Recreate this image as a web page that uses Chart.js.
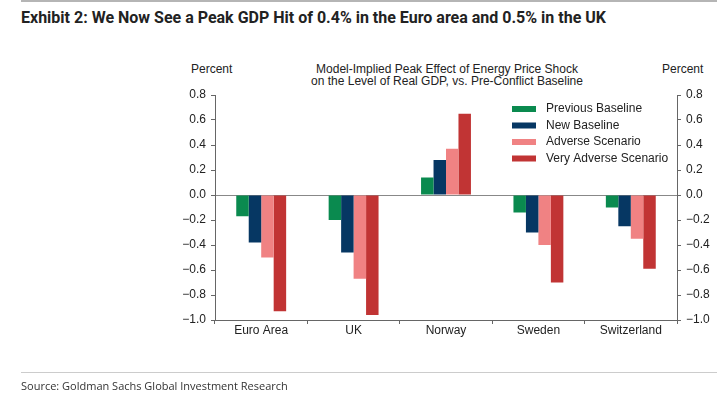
<!DOCTYPE html>
<html>
<head>
<meta charset="utf-8">
<script src="https://cdn.jsdelivr.net/npm/chart.js@4.4.1/dist/chart.umd.min.js"></script>
<style>
  body { margin: 0; background: #fff; width: 717px; height: 398px; position: relative; overflow: hidden; }
  .topline { position: absolute; left: 21px; top: 0; width: 696px; height: 2px; background: #b5b5b5; }
  .exhibit { position: absolute; left: 21px; top: 8px; font: bold 16px Roboto, sans-serif; color: #222; }
  .txt { position: absolute; font: 12px "Liberation Sans", Arial, sans-serif; color: #222; }
  .ctitle { left: 247px; width: 400px; top: 63px; text-align: center; line-height: 12px; }
  .srcline { position: absolute; left: 21px; top: 372px; width: 696px; height: 1px; background: #ccc; }
  .source { position: absolute; left: 21px; top: 378px; font: 11px "Open Sans", sans-serif; color: #333; }
  canvas { position: absolute; left: 0; top: 0; }
</style>
</head>
<body>
<div class="topline"></div>
<div class="exhibit">Exhibit 2: We Now See a Peak GDP Hit of 0.4% in the Euro area and 0.5% in the UK</div>
<div class="txt" style="left:191px;top:62px;">Percent</div>
<div class="txt" style="left:662px;top:62px;">Percent</div>
<div class="txt ctitle">Model-Implied Peak Effect of Energy Price Shock<br>on the Level of Real GDP, vs. Pre-Conflict Baseline</div>
<canvas id="chart" width="717" height="398"></canvas>
<div class="srcline"></div>
<div class="source">Source: Goldman Sachs Global Investment Research</div>
<script>
const categories = ['Euro Area', 'UK', 'Norway', 'Sweden', 'Switzerland'];
const seriesNames = ['Previous Baseline', 'New Baseline', 'Adverse Scenario', 'Very Adverse Scenario'];
const previousBaseline = [-0.17, -0.20, 0.14, -0.14, -0.10];
const newBaseline = [-0.38, -0.46, 0.28, -0.30, -0.25];
const adverseScenario = [-0.50, -0.67, 0.37, -0.40, -0.35];
const veryAdverseScenario = [-0.93, -0.96, 0.65, -0.70, -0.59];
const seriesColors = ['#0a8a4f', '#063763', '#f08283', '#c13434'];

const fmt = v => v.toFixed(1).replace('-', '\u2212');
const tickFont = { family: '"Liberation Sans", Arial, sans-serif', size: 12 };

// legend drawn inside the plot, top right
const insideLegend = {
    id: 'insideLegend',
    afterDraw(chart) {
        const ctx = chart.ctx;
        ctx.save();
        ctx.font = '12px "Liberation Sans", Arial, sans-serif';
        ctx.textBaseline = 'middle';
        chart.data.datasets.forEach((ds, i) => {
            const y = 109 + i * 16.5;
            ctx.fillStyle = ds.backgroundColor;
            ctx.fillRect(512, y - 3, 24, 6);
            ctx.fillStyle = '#222';
            ctx.fillText(ds.label, 546, y);
        });
        ctx.restore();
    }
};

const values = [previousBaseline, newBaseline, adverseScenario, veryAdverseScenario];

new Chart(document.getElementById('chart').getContext('2d'), {
    type: 'bar',
    data: {
        labels: categories,
        datasets: seriesNames.map((name, i) => ({
            label: name,
            data: values[i],
            backgroundColor: seriesColors[i],
            yAxisID: 'y',
            barPercentage: 1,
            categoryPercentage: 0.54
        }))
    },
    options: {
        responsive: false,
        animation: false,
        layout: { padding: { left: 179, right: 6, top: 95, bottom: 53 } },
        plugins: { legend: { display: false }, tooltip: { enabled: false } },
        scales: {
            x: {
                grid: { offset: true, drawOnChartArea: false, tickLength: 4, color: '#666' },
                border: { color: '#666' },
                ticks: { color: '#222', font: tickFont, padding: -1 },
                afterFit(scale) { scale.height = 25; }
            },
            y: {
                position: 'left',
                min: -1.0, max: 0.8,
                ticks: { stepSize: 0.2, color: '#222', font: tickFont, callback: fmt, padding: 5 },
                grid: {
                    tickLength: 4,
                    tickColor: '#666',
                    color: c => (c.tick && Math.abs(c.tick.value) < 1e-9) ? '#888' : 'rgba(0,0,0,0)'
                },
                border: { color: '#666' },
                afterFit(scale) { scale.width = 36; }
            },
            y2: {
                position: 'right',
                min: -1.0, max: 0.8,
                ticks: { stepSize: 0.2, color: '#222', font: tickFont, callback: fmt, padding: 5 },
                grid: { drawOnChartArea: false, tickLength: 4, color: '#666' },
                border: { color: '#666' },
                afterFit(scale) { scale.width = 34; }
            }
        }
    },
    plugins: [insideLegend]
});
</script>
</body>
</html>
